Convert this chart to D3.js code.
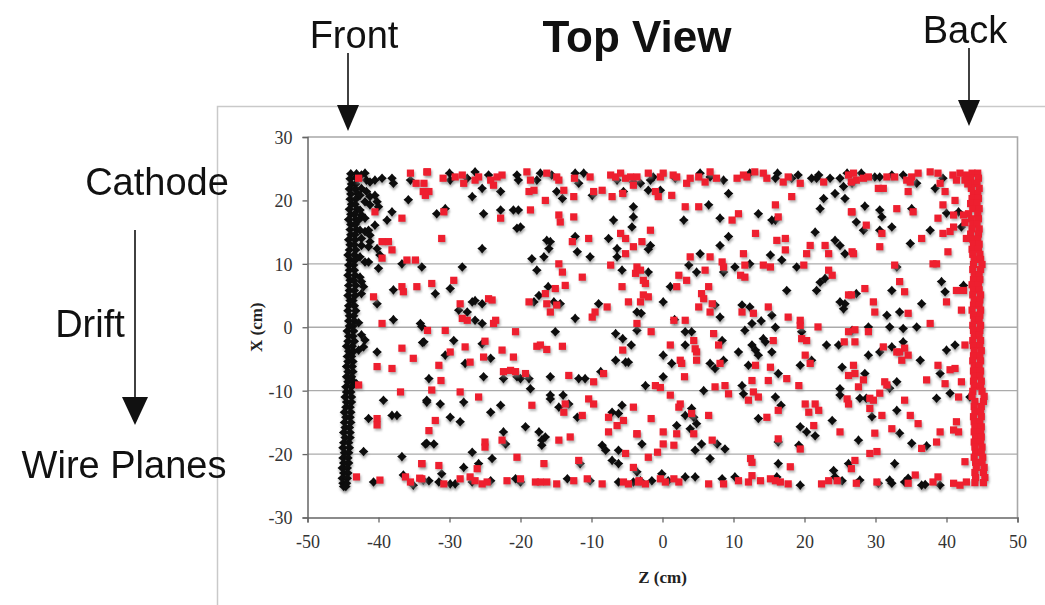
<!DOCTYPE html>
<html>
<head>
<meta charset="utf-8">
<title>Top View</title>
<script src="https://d3js.org/d3.v7.min.js"></script>
<style>
  body { margin: 0; background: #fff; }
  svg { display: block; }
  .tick text { font-family: "Liberation Serif", "Times New Roman", serif; font-size: 18px; fill: #333; }
  .label { font-family: "Liberation Sans", Arial, sans-serif; fill: #111; }
</style>
</head>
<body>
<div id="chart"></div>
<script>

// axis ticks
const zTicks = [-50, -40, -30, -20, -10, 0, 10, 20, 30, 40, 50];
const xTicks = [-30, -20, -10, 0, 10, 20, 30];
const gridValues = [-20, -10, 0, 10];

// front wall (black), one row per X step: [X, Z left, Z right]
const frontWall = [
  [24.2,-43.9,-43.1],[23.4,-44.0,-43.0],[22.6,-43.8,-43.2],[21.8,-44.1,-43.3],[21.0,-43.9,-42.9],
  [20.2,-44.0,-43.2],[19.4,-43.8,-43.3],[18.6,-44.1,-43.0],[17.8,-43.9,-43.4],[17.0,-44.2,-43.2],
  [16.2,-43.9,-43.3],[15.4,-44.0,-43.1],[14.6,-43.9,-43.3],[13.8,-44.2,-43.3],[13.0,-44.0,-43.4],
  [12.2,-44.1,-43.2],[11.4,-44.3,-43.4],[10.6,-44.0,-43.3],[9.8,-44.2,-43.5],[9.0,-44.1,-43.4],
  [8.2,-44.3,-43.3],[7.4,-44.0,-43.5],[6.6,-44.2,-43.2],[5.8,-44.1,-43.4],[5.0,-44.3,-43.3],
  [4.2,-44.0,-43.6],[3.4,-44.2,-43.4],[2.6,-44.3,-43.2],[1.8,-44.1,-43.5],[1.0,-44.2,-43.4],
  [0.2,-44.1,-43.6],[-0.6,-44.4,-43.5],[-1.4,-44.2,-43.6],[-2.2,-44.3,-43.4],[-3.0,-44.5,-43.7],
  [-3.8,-44.2,-43.5],[-4.6,-44.4,-43.8],[-5.4,-44.3,-43.6],[-6.2,-44.5,-43.7],[-7.0,-44.3,-43.6],
  [-7.8,-44.5,-43.8],[-8.6,-44.3,-43.5],[-9.4,-44.6,-43.8],[-10.2,-44.5,-43.9],[-11.0,-44.7,-43.8],
  [-11.8,-44.5,-43.8],[-12.6,-44.6,-44.0],[-13.4,-44.8,-43.9],[-14.2,-44.6,-44.0],[-15.0,-44.8,-43.9],
  [-15.8,-44.7,-44.1],[-16.6,-44.9,-44.0],[-17.4,-44.7,-44.0],[-18.2,-44.9,-44.2],[-19.0,-45.0,-44.1],
  [-19.8,-44.8,-44.2],[-20.6,-45.0,-44.3],[-21.4,-44.9,-44.2],[-22.2,-45.1,-44.4],[-23.0,-44.9,-44.3],
  [-23.8,-45.1,-44.4],[-24.6,-45.0,-44.5],[-25.1,-44.9,-44.6]
];

// back wall (red): [X, Z left, Z right]
const backWall = [
  [24.3,43.6,44.4],[23.5,43.4,44.5],[22.7,43.7,44.3],[21.9,43.5,44.6],[21.1,43.8,44.4],
  [20.3,43.6,44.5],[19.5,43.4,44.3],[18.7,43.7,44.6],[17.9,43.1,44.4],[17.1,43.5,44.5],
  [16.3,43.7,44.3],[15.5,43.6,44.6],[14.7,43.4,44.5],[13.9,43.7,44.4],[13.1,43.8,44.6],
  [12.3,43.6,44.5],[11.5,43.7,44.7],[10.7,43.9,44.8],[9.9,43.8,45.0],[9.1,43.7,44.8],
  [8.3,43.9,44.6],[7.5,43.8,44.7],[6.7,43.6,44.5],[5.9,43.8,44.6],[5.1,43.7,44.8],
  [4.3,43.9,44.7],[3.5,43.8,44.6],[2.7,43.6,44.8],[1.9,43.8,44.7],[1.1,43.9,44.6],
  [0.3,43.7,44.8],[-0.5,43.8,44.7],[-1.3,43.9,44.6],[-2.1,43.7,44.8],[-2.9,43.8,44.7],
  [-3.7,43.9,44.9],[-4.5,43.8,44.7],[-5.3,43.7,44.8],[-6.1,43.9,44.6],[-6.9,43.8,44.8],
  [-7.7,43.9,44.7],[-8.5,43.8,44.9],[-9.3,43.9,44.8],[-10.1,43.7,45.0],[-10.9,43.6,45.3],
  [-11.7,44.0,45.2],[-12.5,43.9,44.9],[-13.3,44.0,44.8],[-14.1,43.8,44.9],[-14.9,43.9,44.7],
  [-15.7,44.0,44.9],[-16.5,43.9,44.8],[-17.3,44.1,44.9],[-18.1,43.9,44.8],[-18.9,44.0,45.0],
  [-19.7,44.1,44.9],[-20.5,43.9,45.1],[-21.3,44.1,45.0],[-22.1,44.2,45.3],[-22.9,44.0,45.2],
  [-23.7,44.1,45.4],[-24.5,44.0,45.2]
];

// scattered hits, [Z, X] in cm
const blackPts = [
  [-43.1,23.7],[-42.4,24],[-41.9,24.3],[-41.7,23.2],[-41.2,22.9],[-40.5,23.2],[-39.5,23.5],[-38.1,23.5],[-37.9,22.7],[-35.5,23.2],
  [-42.4,21.9],[-41.7,21.4],[-42.6,20.8],[-41.2,20.6],[-40.5,20.8],[-40.2,19.8],[-41.9,19.8],[-41.2,19.3],[-40,19],[-42.6,18.5],
  [-42.4,17.7],[-42.8,16.9],[-41.9,17.2],[-38.8,16.9],[-38.1,18.2],[-35.8,20.1],[-40.5,16.1],[-42.6,15.3],[-41.9,15.1],[-41.4,15.3],
  [-41.2,14.5],[-42.4,14],[-41.2,13.5],[-42.4,12.9],[-41.4,12.7],[-40.2,12.4],[-39.8,11.4],[-42.6,11.1],[-41.9,10.3],[-41.4,10.3],
  [-36.7,10],[-33.9,9.5],[-40,9.3],[-42.6,7.9],[-42.4,7.2],[-42.1,6.4],[-42.4,5.3],[-40.2,3.7],[-37.9,5.9],[-42.8,0.7],
  [-37.9,1.2],[-34.1,0.6],[-42.4,-1.2],[-41.9,-2],[-42.1,-3.1],[-42.8,-3.6],[-40.2,-3.9],[-33.8,-2.4],[-43.1,-8.9],[-39.3,-11.5],
  [-33.2,-11.5],[-41.4,-14.4],[-38.1,-13.9],[-37.4,-13.9],[-33.2,-18.3],[-42.1,-19.6],[-36.7,-20.4],[-40.7,-24.4],[-36.5,-23.3],[-35.1,-24.9],
  [-33.7,-24.1],
  [-30,24.3],[-29.9,23.2],[-27.5,23.5],[-26.4,24.5],[-25.4,21.9],[-24.5,24],[-22.8,21.4],[-20.5,24],[-20.3,23.2],[-17.7,23.2],
  [-17.2,24.3],[-15.6,24],[-12.3,24.3],[-11.8,22.7],[-11.1,24.3],[-6.4,23.2],[-4.1,22.9],
  [-26.8,20.6],[-22.8,18.5],[-25.2,17.9],[-30.6,18.7],[-31.8,17.9],[-21,18.5],[-20.3,18.5],[-14.9,21.4],[-14.1,20.3],[-9.9,20.8],
  [-5.5,21.4],[-4.1,19],[-4.1,17.4],[-6.9,16.9],[-20.5,15.6],[-20,15.8],[-25.4,12.4],[-16.3,13.7],[-15.8,13.5],[-16,12.4],
  [-12.3,14.3],[-12,11.9],[-10.2,11.1],[-7.6,14],[-6.4,12.4],[-4.3,15.8],[-6.4,11.1],[-18.4,10.8],[-16.7,11.1],[-28.2,9.5],
  [-17.7,9],[-5.7,9],
  [-32,5.3],[-29.9,6.1],[-28.7,2.7],[-27.5,2.4],[-26.8,4],[-26.4,4.2],[-25.4,3.7],[-26.4,1.1],[-25.4,0.6],[-18.1,4],
  [-17.4,5],[-16.1,6.4],[-15.3,4],[-14.4,3.7],[-12.3,1.4],[-9,3.7],[-3.6,2.4],[-33.9,0.1],
  [-33.6,-2.3],[-29.4,-2.1],[-30.6,-4.4],[-25.4,-2.6],[-24.2,-4.9],[-27.8,-5.7],[-15.1,-0.7],[-6.6,-1],[-5.6,-1.8],[-4.4,-2.8],
  [-6.6,-5.2],[-5.2,-5.5],[-4.8,-5.5],[-32.9,-8.1],[-25.2,-7.8],[-22.4,-8.1],[-20.5,-7.8],[-20,-8.1],[-18.8,-8.1],[-15.8,-7.8],
  [-11.8,-8.1],[-10.9,-8.1],[-8.7,-7],[-18.6,-9.7],
  [-33.2,-11.8],[-31.3,-12.1],[-28,-11.8],[-22.8,-12.3],[-15.8,-10.7],[-15.8,-11.3],[-14,-10.7],[-14.6,-12.6],[-13.2,-12.1],[-12,-14.2],
  [-7.1,-13.4],[-5.7,-12.3],[-6.2,-13.6],[-29.9,-14.2],[-28.5,-14.9],[-24.2,-13.4],[-22.4,-16.5],[-19.3,-15.7],[-17.4,-16.5],[-16.5,-17.3],
  [-17,-17.8],[-22.1,-18.4],[-17,-18.6],[-33.4,-18.4],[-32.2,-18.4],[-8.5,-18.6],[-8,-19.4],[-6.2,-19.4],
  [-26.8,-19.7],[-24,-20.7],[-25.9,-21.5],[-28,-22.1],[-11.6,-21.5],[-7.1,-21],[-6.2,-21.5],[-31.1,-23.1],
  [-32.9,-24.2],[-31.5,-24.4],[-29.9,-24.7],[-29.2,-24.7],[-26.8,-24.4],[-24.2,-24.2],[-20.7,-23.9],[-20,-24.4],[-13.4,-23.9],[-10.2,-24.2],
  [-6.2,-24.4],[-4.1,-24.4],
  [-3.1,22.7],[-1.7,23.2],[-1.3,23.7],[1.8,23.5],[5.3,24.3],[6.7,23.7],[8.6,23.2],[12.3,24.3],[15.9,23.5],[16.2,24.3],
  [18.2,23.5],[19.1,24],[21,23.5],[22,24],[21.7,23.5],[23.6,23.5],[25,23.5],[26,24.3],[26.7,22.7],
  [-2,21.6],[-0.3,21.6],[9.3,21.1],[22.7,20.3],[24.3,21.1],[25.5,22.2],[25.7,20.3],[6.5,19.3],[22.2,18.7],[3,16.9],
  [8.1,17.2],[13.5,17.9],[15.4,16.9],[15.9,16.9],[9.3,14.3],[21.5,15],[24.3,13.7],[25,12.9],[25.7,11.6],[-1.7,12.9],
  [-2,12.3],[8.1,12.9],[5.3,11.6],[3.7,9.8],[4.8,8.7],[15.2,11.4],[16.8,10.6],[8.6,8.7],[10.2,9.5],[12.3,10],
  [18.9,9.5],[-2,8.7],[1.1,6.4],[17.5,5.8],[22.2,7.1],[22.9,7.7],[21.7,5.8],[25,4],[25.7,3.7],[25.5,2.9],
  [0.1,4],[-3,2.2],[7.4,3.5],[8.1,1.6],[11.2,3.5],[12.3,3.2],[15.4,1.9],[12.6,0.6],[13.9,1],[15.9,0],
  [19.6,-0.7],[1.7,1.2],[-3.6,-0.5],[11.6,-0.5],[26.7,-0.5],[23.1,-2.8],[24.8,-2.8],[3.2,-0.7],[4.1,-0.7],[3.2,-2.8],
  [8.4,-2.1],[14.2,-1.8],[14.5,-2.3],[12.6,-2.8],[13.1,-3.6],[13.5,-4.4],[10.7,-3.9],[0.1,-4.4],[1.3,-5.7],[6.7,-5.7],
  [7.4,-6.5],[8.6,-5.2],[12.1,-6],[15.4,-3.9],[19.4,-6],[21,-5.2],[25.3,-6.3],[16.3,-7.3],[0.1,-7.8],[-2.4,-9.2],
  [5.8,-10],[11.2,-9.2],[11.4,-10.5],[15.9,-11],[16.7,-12.3],[13.5,-14.4],[25,-9.7],[25,-10.7],[4.1,-12.8],[3.2,-13.9],
  [4.4,-14.2],[2,-15.5],[3.9,-16],[4.8,-15.2],[19.4,-15.7],[20.3,-16.5],[21.5,-17.1],[23.9,-14.7],[-2.9,-18.4],[7.7,-18.4],
  [5.5,-18.4],[8.8,-19.2],[4.6,-19.4],[16.3,-18.1],[19.2,-18.6],[6.7,-20.7],[16.3,-21.5],[26.2,-21.5],[24.1,-22.6],[-3.6,-22.8],
  [-3.1,-24.2],[-1.5,-24.2],[-0.1,-23.1],[0.8,-24.2],[3.2,-23.6],[4.6,-23.6],[8.4,-23.9],[10.2,-23.6],[16.1,-23.6],[19.4,-24.9],
  [24.3,-23.6],[25.3,-24.2],
  [28,24.3],[29.9,23.7],[30.6,23.7],[32.3,24],[33.9,24],[35.8,22.7],[39.5,23.5],[38.4,21.9],[40,18],[41.7,18.2],
  [35.1,18.7],[28.5,19.1],[30.6,18.5],[30.9,17.4],[27.3,16.6],[28.3,15.3],[32.3,15.8],[30.6,15.3],[37.7,15.3],[42.1,15.8],
  [34.9,13.2],[33,9.5],[32.3,5.8],[39.3,7.2],[39.8,5.6],[42.4,6.6],[27.3,5.3],[31.6,1.9],[33.4,2.4],[36.5,3.7],
  [32,0.05],[33.9,-0.2],[35.8,0.05],[29,0.05],[29,-4.4],[30.6,-3.9],[32.3,-3.1],[33.9,-2.3],[36.3,-5.2],[40,-3.6],
  [41.2,-2.8],[28.5,-7.3],[32,-9.6],[33,-8.6],[39.1,-7.3],[27.8,-11.2],[28.7,-11.2],[29.5,-14.1],[33,-13.1],[38.6,-11.2],
  [40.5,-10.4],[43.3,-11],[33.4,-16.7],[27.6,-17.8],[35.1,-18.3],[37.2,-18.7],[32.7,-21.5],[27.8,-24.1],[30.4,-24.6],[32,-24.1],
  [32.3,-24.6],[34.1,-24.4],[34.6,-23.8],[36.5,-24.9],[37,-24.8],[39.1,-24.9]
];

const redPts = [
  [-42.8,23.5],[-35.5,24.3],[-33.2,24.5],[-34.7,22.7],[-33.7,21.4],[-40.5,18.2],[-36.7,17.2],[-39.5,13.5],[-38.6,13.5],[-38.1,12.2],
  [-39.5,10.9],[-36,10.6],[-34.8,10.6],[-40.7,4.8],[-36.7,6.4],[-36.5,5.6],[-34.6,6.4],[-39.5,0.6],
  [-36.7,-3.3],[-35.1,-4.9],[-40.2,-6.2],[-38.1,-6.5],[-42.8,-9.1],[-36.9,-10.2],[-40.2,-14.4],[-40.2,-15.4],[-33.9,-21.5],[-43.1,-23.6],
  [-39.8,-24.1],[-36.2,-23.6],[-35.5,-24.4],[-34.2,-23.8],
  [-33.1,24.5],[-33.6,22.7],[-32.9,21.4],[-33.4,20.8],[-30.9,23.5],[-29.2,23.7],[-28.2,24],[-28,22.7],[-26.4,23.2],[-25.9,23.7],
  [-24.2,23.2],[-23.8,22.4],[-23.3,23.7],[-22.6,24],[-19.1,24.5],[-18.6,23.2],[-16.3,24.3],[-14.9,23.7],[-14.6,23.2],[-12.4,23.5],
  [-10.2,23.7],[-7.3,24],[-6.6,23.7],[-5.9,24.3],[-5.2,23.5],[-4.5,23.7],[-4.1,22.4],
  [-18.8,21.4],[-18.1,21.6],[-22.8,17.2],[-30.8,18.2],[-18.6,18.5],[-16.5,20],[-13.9,21.6],[-12.5,20.6],[-12.5,17.4],[-14.6,17.7],
  [-14.4,16.6],[-9.7,21.4],[-8.5,21.6],[-7.1,20.6],[-5.6,21.1],[-31.1,14],[-12.7,13.5],[-10.4,14],[-5.9,14.8],[-5.2,14],
  [-5.2,11.6],[-4.1,12.7],[-14.6,10],[-14.1,8.7],[-11.3,7.9],[-7.3,9.8],[-3.8,8.5],
  [-32.5,6.9],[-29.4,7.4],[-28.5,3.7],[-24.5,4.5],[-24,4.3],[-28.2,1.4],[-27.5,1.1],[-23.8,0.6],[-23.5,1.1],[-18.8,4],
  [-16.5,5.3],[-16.3,3.7],[-15.1,6.1],[-14.9,3.5],[-15.8,2.4],[-13.7,6.6],[-9.9,1.6],[-9.5,2.4],[-7.8,3.2],[-5.7,6.4],
  [-4.8,4],[-3.6,0.6],[-33.1,-0.5],
  [-30.6,-0.5],[-29.9,-3.9],[-27.8,-3.1],[-25,-2.2],[-25.2,-4.7],[-27.1,-5.5],[-31.5,-6],[-22.6,-3.6],[-21,-4.7],[-20.7,-0.7],
  [-17.7,-3],[-17.2,-2.8],[-16.3,-3.5],[-14.1,-3],[-5.6,-3.6],[-31.2,-8.4],[-22.4,-7],[-21.4,-6.8],[-20.7,-7],[-19.3,-7.3],
  [-13.2,-7.6],[-9.7,-8.6],[-8.3,-7.3],[-32.5,-9.9],[-28.5,-10.2],[-25.9,-11],
  [-18.4,-12.3],[-13.7,-12.1],[-13.9,-13.4],[-10.4,-11.3],[-9.7,-12.1],[-11.3,-13.9],[-7.6,-14.2],[-5.5,-14.7],[-6.4,-15.5],[-4.1,-12.6],
  [-32,-14.7],[-32.9,-16.3],[-22.6,-17.8],[-25,-18.1],[-25,-18.9],[-14.6,-17.8],[-13,-17.3],[-7.6,-16.5],[-3.6,-16.8],[-5.2,-19.9],
  [-20.5,-20.5],[-33.9,-21.5],[-31.5,-21.8],[-26.1,-22.3],[-16.7,-21.5],[-11.8,-21],[-4.1,-22.1],
  [-33.9,-23.9],[-30.8,-24.7],[-28.5,-23.9],[-27.1,-23.6],[-26.4,-24.2],[-25.4,-24.7],[-24.7,-24.4],[-21.9,-24.2],[-20,-23.9],[-17.9,-24.4],
  [-17.2,-24.4],[-16.3,-24.4],[-14.9,-24.7],[-12.5,-24.2],[-10.6,-23.9],[-8.5,-24.7],[-5.5,-24.4],[-4.8,-24.7],[-3.3,-24.2],
  [-3.6,23.7],[-2,24.3],[-0.3,23.7],[0.1,24.3],[1.5,24],[2,23.7],[3.4,22.7],[3.9,23.5],[5.1,23.7],[6,22.9],
  [6.7,24.5],[7.6,23.5],[10.5,23.5],[11.4,24],[11.9,23.7],[13,24.5],[14.2,24.3],[14.7,23.5],[17,22.9],[17.7,23.7],
  [19.4,22.7],[22.7,22.9],[26.2,24],
  [-1,21.4],[-0.6,20.6],[1.3,20.8],[18.2,20.6],[3.2,19],[5.1,19],[15.9,19.3],[26.7,18.2],[9.8,16.9],[10.7,17.9],
  [16.3,17.4],[-1.7,15.3],[13.1,14.8],[16.1,13.7],[17.3,14],[17.3,12.2],[22.9,12.9],[23.4,11.6],[26.7,11.9],[20.8,12.9],
  [20.3,11.6],[-2.9,13.5],[11.4,11.6],[3.9,11.1],[6.7,11.1],[8.4,10.3],[8.6,9.5],[11.6,9.8],[14.2,9.8],[15.2,9.5],
  [19.9,9.8],[6,9],[11,8.2],[11.6,7.9],[-3.6,9.5],[-3.1,9],[-2.7,7.4],[-2.4,6.9],[2.3,8.2],[3.4,7.4],
  [2,6.4],[6.5,6.4],[23.4,9],[23.9,8.2],[26.2,5.1],[-2.7,5.1],[-2,4.8],[-3.1,4],[5.5,5.3],[5.8,4.5],
  [7,3.7],[5.1,3.2],[6.7,2.4],[11.2,2.4],[12.8,2.2],[14.9,3.2],[17.7,1.6],[19.4,1.1],[19.4,0.3],[21.9,0.05],
  [1.6,1.1],[3.2,1.1],[-1.6,-0.7],[7.2,-1],[19.6,-1.8],[20.3,-2.1],[26.2,-0.7],[25.6,-2.3],[4.4,-2.1],[4.6,-3.4],
  [4.8,-3.9],[7.9,-2.8],[15.6,-2.1],[1.1,-2.8],[2.5,-5.2],[2.7,-5.7],[4.8,-5.2],[8.1,-5.7],[13.1,-6],[15.2,-6.3],
  [20.8,-5.7],[20.1,-4.4],[26.2,-7.6],[19.2,-9.2],[17.5,-8.1],[3.1,-7.8],[-1,-9.2],[-0.3,-9.5],[7.4,-9.4],[8.8,-9.2],
  [9.3,-10.5],[12.6,-8.4],[12.8,-10.2],[12.1,-11.5],[13.5,-11],[14.9,-8.4],[16.3,-13.1],[14.7,-14.2],[26,-11.3],[26.2,-12.1],
  [1.1,-10.7],[2.5,-12.1],[2.3,-12.6],[4.1,-13.6],[6.5,-13.9],[20.1,-12.1],[21.5,-12.1],[20.6,-13.4],[22,-13.1],[-1.6,-14.4],
  [4.4,-16.8],[21.3,-15.5],[25,-16.5],[-3.6,-16.8],[0.1,-16.5],[2,-16.8],[0.1,-18.4],[1.6,-18.6],[7,-17.8],[16.3,-17.6],
  [19.4,-19.2],[-2,-20.5],[-0.7,-19.7],[12.4,-20.7],[12.6,-21.3],[18,-22],[26.6,-22.3],
  [-3.4,-24.4],[-2.4,-24.7],[-0.3,-23.9],[0.4,-24.4],[1.6,-23.9],[2.3,-24.4],[6.5,-24.7],[8.6,-24.7],[10.7,-24.2],[12.1,-24.4],
  [12.6,-23.4],[13.8,-24.2],[15.2,-23.9],[15.9,-24.2],[16.6,-24.4],[17.7,-24.7],[22.4,-24.7],[23.4,-24.2],[24.6,-24.2],
  [26.9,24.3],[26.6,22.9],[27.3,23.2],[28.3,23.5],[29,23.7],[30.4,21.9],[31.1,21.9],[31.6,23.7],[32.7,23.7],[34.4,23.2],
  [35.1,23.7],[34.9,22.9],[36,24.3],[37.7,24.5],[38.8,24.3],[39.1,22.7],[39.8,21.4],[34.6,21.4],[41.2,20],[39.5,19.3],
  [41,17.7],[38.8,17.2],[33,18.7],[35.3,18.2],[28.7,16.1],[26.6,18.2],[30.9,14.8],[39.5,14.8],[40.5,15.1],[41,15.8],
  [36.5,14],[30.6,12.7],[40.2,11.9],[26.9,11.6],[32.7,9.8],[38.1,10],[38.6,10],[33.4,7.2],[34.1,5.6],[40,4],
  [41.4,5.8],[42.4,5.8],[28.5,6.1],[26.6,5.1],[29.7,4],[29.9,2.4],[34.6,2.2],[42.1,2.7],[37.7,0.6],
  [27.1,-0.4],[29,-0.7],[27.1,-2.3],[31.1,-3.1],[33,-3.9],[33.4,-3.9],[34.1,-3.3],[34.6,-4.4],[33.7,-5.2],[42.6,-2.8],
  [26.9,-6],[27.1,-7.3],[28.3,-8.3],[27.6,-9.4],[31.3,-8.6],[31.6,-9.1],[37.2,-8.3],[38.8,-6],[40.5,-6.7],[41.2,-6.5],
  [39.8,-8.9],[42.1,-8.6],[29.2,-11.2],[29.7,-11.5],[30.6,-10.4],[29.2,-12.8],[30.9,-13.9],[34.1,-11.5],[34.9,-13.9],[36,-15.2],
  [41.7,-11],[41.4,-14.9],[41,-16.2],[41.7,-16.5],[32.3,-16],[39.1,-16.5],[29.9,-16.7],[30.2,-19.6],[29.2,-19.9],[36.5,-19.1],
  [38.6,-18.1],[27.1,-21],[42.6,-21.2],[27.3,-24.6],[30.2,-24.4],[35.6,-23.3],[34.6,-24.6],[38.1,-24.4],[38.8,-23.6],[41,-24.6],
  [41.9,-24.9],[42.8,-24.4],
  [40.9,24],[41.9,24.3],[42.8,24],[41.4,23.2],[42.6,23.2],[43,22.6],[42.4,17.7],[42.6,16.5],[42.8,14]
];

// wall rows -> [Z, X] points
const wallPoints = rows => rows.flatMap(r => [[r[1], r[0]], [r[2], r[0]]]);
const blackAll = wallPoints(frontWall).concat(blackPts);
const redAll = wallPoints(backWall).concat(redPts);

const W = 1045, H = 605;
const plot = { left: 307.5, right: 1017.5, top: 137, bottom: 517.5 };

const svg = d3.select("#chart").append("svg")
  .attr("width", W)
  .attr("height", H);

const defs = svg.append("defs");
defs.append("filter").attr("id", "shadowBlur")
  .attr("x", "-50%").attr("y", "-50%").attr("width", "200%").attr("height", "200%")
  .append("feGaussianBlur").attr("stdDeviation", 0.9);

const x = d3.scaleLinear().domain([-50, 50]).range([plot.left, plot.right]);
const y = d3.scaleLinear().domain([-30, 30]).range([plot.bottom, plot.top]);

// chart area outline
svg.append("path")
  .attr("d", `M217.5,${H} V106.5 H${W}`)
  .attr("fill", "none")
  .attr("stroke", "#c9c9c9")
  .attr("stroke-width", 1.5);

// gridlines
svg.append("g").selectAll("line")
  .data(gridValues)
  .join("line")
  .attr("x1", plot.left).attr("x2", plot.right)
  .attr("y1", d => y(d)).attr("y2", d => y(d))
  .attr("stroke", "#ababab")
  .attr("stroke-width", 1.3);

// top and right frame
svg.append("path")
  .attr("d", `M${plot.left},${plot.top} H${plot.right} V${plot.bottom}`)
  .attr("fill", "none")
  .attr("stroke", "#a8a8a8")
  .attr("stroke-width", 1.6);

const plainNum = d => String(d);

const xAxis = svg.append("g")
  .attr("transform", `translate(0,${plot.bottom})`)
  .call(d3.axisBottom(x).tickValues(zTicks).tickSize(5).tickPadding(13).tickFormat(plainNum));

const yAxis = svg.append("g")
  .attr("transform", `translate(${plot.left},0)`)
  .call(d3.axisLeft(y).tickValues(xTicks).tickSize(5).tickPadding(10).tickFormat(plainNum));

[xAxis, yAxis].forEach(g => {
  g.select(".domain").attr("stroke", "#666").attr("stroke-width", 1.5);
  g.selectAll(".tick line").attr("stroke", "#666").attr("stroke-width", 1.3);
});
yAxis.selectAll(".tick text").attr("dy", "0.36em");

// axis titles
svg.append("text")
  .attr("transform", `translate(262,${y(0)}) rotate(-90)`)
  .attr("text-anchor", "middle")
  .attr("font-family", "'Liberation Serif', 'Times New Roman', serif")
  .attr("font-weight", "bold")
  .attr("font-size", 17)
  .attr("fill", "#222")
  .text("X (cm)");

svg.append("text")
  .attr("x", x(0))
  .attr("y", 583)
  .attr("text-anchor", "middle")
  .attr("font-family", "'Liberation Serif', 'Times New Roman', serif")
  .attr("font-weight", "bold")
  .attr("font-size", 17)
  .attr("fill", "#222")
  .text("Z (cm)");

// markers
const starPath = "M0,-4.8L2.2,-2.2L4.8,0L2.2,2.2L0,4.8L-2.2,2.2L-4.8,0L-2.2,-2.2Z";

const blackG = svg.append("g");
blackG.append("g").attr("filter", "url(#shadowBlur)")
  .selectAll("path")
  .data(blackAll)
  .join("path")
  .attr("d", starPath)
  .attr("transform", d => `translate(${x(d[0]) + 0.5},${y(d[1]) + 2.6})`)
  .attr("fill", "#8a8a8a")
  .attr("opacity", 0.7);
blackG.append("g")
  .selectAll("path")
  .data(blackAll)
  .join("path")
  .attr("d", starPath)
  .attr("transform", d => `translate(${x(d[0])},${y(d[1])})`)
  .attr("fill", "#0d0d0d");

const redG = svg.append("g");
redG.append("g").attr("filter", "url(#shadowBlur)")
  .selectAll("rect")
  .data(redAll)
  .join("rect")
  .attr("x", d => x(d[0]) - 3.6 + 1.2)
  .attr("y", d => y(d[1]) - 3.6 + 2.2)
  .attr("width", 7.2).attr("height", 7.2)
  .attr("fill", "#8a8a8a")
  .attr("opacity", 0.6);
redG.append("g")
  .selectAll("rect")
  .data(redAll)
  .join("rect")
  .attr("x", d => x(d[0]) - 3.6)
  .attr("y", d => y(d[1]) - 3.6)
  .attr("width", 7.2).attr("height", 7.2)
  .attr("fill", "#ee1f2f");

// annotations
function label(txt, cx, base, size, weight) {
  svg.append("text")
    .attr("class", "label")
    .attr("x", cx).attr("y", base)
    .attr("text-anchor", "middle")
    .attr("font-size", size)
    .attr("font-weight", weight || "normal")
    .text(txt);
}

function arrowDown(ax, y0, y1, headW, headH) {
  svg.append("line")
    .attr("x1", ax).attr("x2", ax)
    .attr("y1", y0).attr("y2", y1 - headH + 1)
    .attr("stroke", "#111").attr("stroke-width", 1.6);
  svg.append("path")
    .attr("d", `M${ax - headW / 2},${y1 - headH} L${ax + headW / 2},${y1 - headH} L${ax},${y1} Z`)
    .attr("fill", "#111");
}

label("Top View", 637, 52, 44, "bold");
label("Front", 354, 48, 38);
label("Back", 965, 43, 38);
label("Cathode", 157, 195, 38);
label("Drift", 90, 337, 38);
label("Wire Planes", 124, 478, 38);

arrowDown(348, 53, 131, 22, 26);
arrowDown(969, 48, 126, 22, 26);
arrowDown(135, 230, 425, 26, 28);

</script>
</body>
</html>
